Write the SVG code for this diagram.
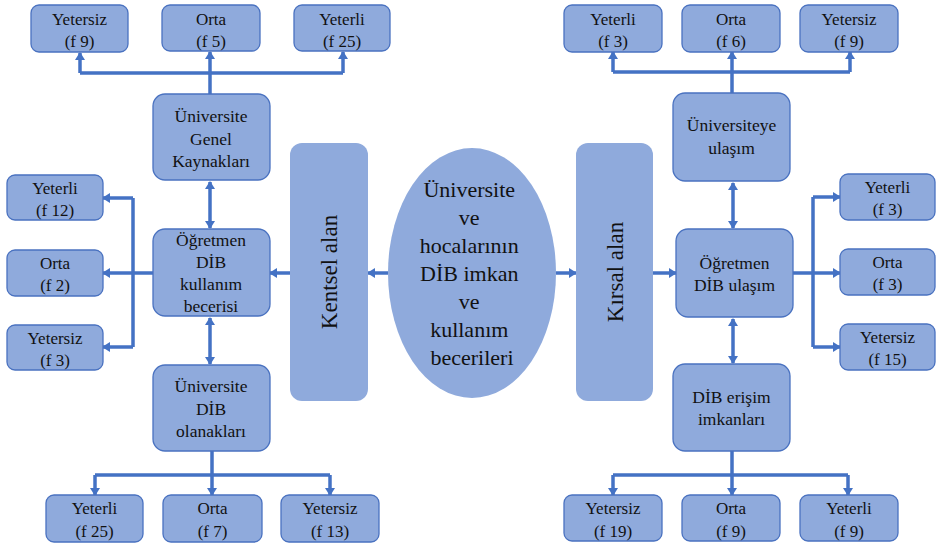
<svg xmlns="http://www.w3.org/2000/svg" width="936" height="545" viewBox="0 0 936 545">
  <style>
    .box { fill: #8FAADC; stroke: #4A72C0; stroke-width: 1.3; }
    .plain { fill: #8FAADC; stroke: none; }
    text { font-family: 'Liberation Serif', 'Times New Roman', 'DejaVu Serif', serif; fill: #111; text-anchor: middle; }
    .s { font-size: 17px; }
    .m { font-size: 17.5px; }
    .c { font-size: 22px; }
    .v { font-size: 23px; dominant-baseline: central; }
    .ln { fill: none; stroke: #4472C4; stroke-width: 3.5; }
    .ar { marker-end: url(#ah); }
    .dbl { marker-start: url(#ah); marker-end: url(#ah); }
  </style>
  <defs>
    <marker id="ah" viewBox="0 0 8 10" refX="7" refY="5" markerWidth="8" markerHeight="10" markerUnits="userSpaceOnUse" orient="auto-start-reverse">
      <path d="M0,0 L8,5 L0,10 z" fill="#4472C4"/>
    </marker>
  </defs>
  <rect width="936" height="545" fill="#ffffff"/>

  <!-- connectors -->
  <g id="connectors">
    <!-- centre to the two areas -->
    <path class="ln ar" d="M388,273 H368"/>
    <path class="ln ar" d="M556,273 H576"/>
    <path class="ln ar" d="M290,273 H270"/>
    <path class="ln ar" d="M653,273 H676"/>

    <!-- left: general resources to levels -->
    <path class="ln" d="M210,94 V73 M80,73 H343"/>
    <path class="ln ar" d="M80,73 V53"/>
    <path class="ln ar" d="M210,73 V52"/>
    <path class="ln ar" d="M343,73 V52"/>

    <!-- left vertical chain -->
    <path class="ln dbl" d="M210,182 V228"/>
    <path class="ln dbl" d="M210,318 V364"/>

    <!-- left: teacher skill to levels -->
    <path class="ln" d="M153,273 H133 M133,198 V347"/>
    <path class="ln ar" d="M133,273 H103"/>
    <path class="ln ar" d="M133,198 H103"/>
    <path class="ln ar" d="M133,347 H103"/>

    <!-- left: university facilities to levels -->
    <path class="ln" d="M212,451 V475 M95,475 H330"/>
    <path class="ln ar" d="M95,475 V495"/>
    <path class="ln ar" d="M212,475 V495"/>
    <path class="ln ar" d="M330,475 V495"/>

    <!-- right: access to university -->
    <path class="ln" d="M732,93 V72 M613,72 H850"/>
    <path class="ln ar" d="M613,72 V52"/>
    <path class="ln ar" d="M732,72 V52"/>
    <path class="ln ar" d="M850,72 V52"/>

    <!-- right vertical chain -->
    <path class="ln dbl" d="M733,183 V228"/>
    <path class="ln dbl" d="M733,319 V363"/>

    <!-- right: teacher access to levels -->
    <path class="ln" d="M793,273 H813 M813,197 V347"/>
    <path class="ln ar" d="M813,273 H840"/>
    <path class="ln ar" d="M813,197 H840"/>
    <path class="ln ar" d="M813,347 H840"/>

    <!-- right: access facilities to levels -->
    <path class="ln" d="M732,451 V475 M613,475 H848"/>
    <path class="ln ar" d="M613,475 V495"/>
    <path class="ln ar" d="M732,475 V495"/>
    <path class="ln ar" d="M848,475 V495"/>
  </g>

  <!-- centre -->
  <g id="center">
    <ellipse class="plain" cx="472" cy="273" rx="84" ry="125"/>
    <text class="c">
      <tspan x="472" y="197">Üniversite</tspan>
      <tspan x="472" y="225">ve</tspan>
      <tspan x="472" y="253">hocalarının</tspan>
      <tspan x="472" y="281">DİB imkan</tspan>
      <tspan x="472" y="309">ve</tspan>
      <tspan x="472" y="337">kullanım</tspan>
      <tspan x="472" y="365">becerileri</tspan>
    </text>
  </g>

  <g id="kentsel">
    <rect class="plain" x="290" y="143" width="78" height="258" rx="12"/>
    <text class="v" transform="translate(329,272) rotate(-90)">Kentsel alan</text>
  </g>

  <g id="kirsal">
    <rect class="plain" x="576" y="143" width="77" height="258" rx="12"/>
    <text class="v" transform="translate(615,272) rotate(-90)">Kırsal alan</text>
  </g>

  <!-- left side -->
  <g id="genel-kaynaklar">
    <rect class="box" x="153" y="94" width="117" height="86" rx="12"/>
    <text class="m"><tspan x="211" y="122">Üniversite</tspan><tspan x="211" y="145">Genel</tspan><tspan x="211" y="167">Kaynakları</tspan></text>
  </g>
  <g id="gk-yetersiz">
    <rect class="box" x="31" y="5" width="97" height="47" rx="8"/>
    <text class="s"><tspan x="79.5" y="25">Yetersiz</tspan><tspan x="79.5" y="47">(f 9)</tspan></text>
  </g>
  <g id="gk-orta">
    <rect class="box" x="162" y="5" width="98" height="46" rx="8"/>
    <text class="s"><tspan x="211" y="25">Orta</tspan><tspan x="211" y="47">(f 5)</tspan></text>
  </g>
  <g id="gk-yeterli">
    <rect class="box" x="294" y="5" width="96" height="46" rx="8"/>
    <text class="s"><tspan x="342" y="25">Yeterli</tspan><tspan x="342" y="47">(f 25)</tspan></text>
  </g>

  <g id="ogretmen-kullanim">
    <rect class="box" x="153" y="229" width="117" height="87" rx="12"/>
    <text class="m"><tspan x="211" y="246">Öğretmen</tspan><tspan x="211" y="268">DİB</tspan><tspan x="211" y="290">kullanım</tspan><tspan x="211" y="312">becerisi</tspan></text>
  </g>
  <g id="ok-yeterli">
    <rect class="box" x="7" y="175" width="96" height="45" rx="8"/>
    <text class="s"><tspan x="55" y="194">Yeterli</tspan><tspan x="55" y="216">(f 12)</tspan></text>
  </g>
  <g id="ok-orta">
    <rect class="box" x="7" y="250" width="96" height="46" rx="8"/>
    <text class="s"><tspan x="55" y="269">Orta</tspan><tspan x="55" y="291">(f 2)</tspan></text>
  </g>
  <g id="ok-yetersiz">
    <rect class="box" x="7" y="325" width="96" height="45" rx="8"/>
    <text class="s"><tspan x="55" y="344">Yetersiz</tspan><tspan x="55" y="366">(f 3)</tspan></text>
  </g>

  <g id="dib-olanaklari">
    <rect class="box" x="153" y="365" width="117" height="86" rx="12"/>
    <text class="m"><tspan x="211" y="392">Üniversite</tspan><tspan x="211" y="415">DİB</tspan><tspan x="211" y="437">olanakları</tspan></text>
  </g>
  <g id="do-yeterli">
    <rect class="box" x="46" y="495" width="97" height="47" rx="8"/>
    <text class="s"><tspan x="94.5" y="514">Yeterli</tspan><tspan x="94.5" y="537">(f 25)</tspan></text>
  </g>
  <g id="do-orta">
    <rect class="box" x="163" y="495" width="99" height="47" rx="8"/>
    <text class="s"><tspan x="212.5" y="514">Orta</tspan><tspan x="212.5" y="537">(f 7)</tspan></text>
  </g>
  <g id="do-yetersiz">
    <rect class="box" x="281" y="495" width="98" height="47" rx="8"/>
    <text class="s"><tspan x="330" y="514">Yetersiz</tspan><tspan x="330" y="537">(f 13)</tspan></text>
  </g>

  <!-- right side -->
  <g id="universiteye-ulasim">
    <rect class="box" x="673" y="93" width="117" height="88" rx="12"/>
    <text class="m"><tspan x="731.5" y="131">Üniversiteye</tspan><tspan x="731.5" y="154">ulaşım</tspan></text>
  </g>
  <g id="uu-yeterli">
    <rect class="box" x="564" y="5" width="98" height="47" rx="8"/>
    <text class="s"><tspan x="613" y="25">Yeterli</tspan><tspan x="613" y="47">(f 3)</tspan></text>
  </g>
  <g id="uu-orta">
    <rect class="box" x="682" y="5" width="98" height="47" rx="8"/>
    <text class="s"><tspan x="731" y="25">Orta</tspan><tspan x="731" y="47">(f 6)</tspan></text>
  </g>
  <g id="uu-yetersiz">
    <rect class="box" x="800" y="5" width="98" height="47" rx="8"/>
    <text class="s"><tspan x="849" y="25">Yetersiz</tspan><tspan x="849" y="47">(f 9)</tspan></text>
  </g>

  <g id="ogretmen-ulasim">
    <rect class="box" x="676" y="229" width="117" height="88" rx="12"/>
    <text class="m"><tspan x="734.5" y="269">Öğretmen</tspan><tspan x="734.5" y="291">DİB ulaşım</tspan></text>
  </g>
  <g id="ou-yeterli">
    <rect class="box" x="840" y="174" width="95" height="46" rx="8"/>
    <text class="s"><tspan x="887.5" y="193">Yeterli</tspan><tspan x="887.5" y="215">(f 3)</tspan></text>
  </g>
  <g id="ou-orta">
    <rect class="box" x="840" y="249" width="95" height="46" rx="8"/>
    <text class="s"><tspan x="887.5" y="268">Orta</tspan><tspan x="887.5" y="290">(f 3)</tspan></text>
  </g>
  <g id="ou-yetersiz">
    <rect class="box" x="840" y="324" width="95" height="46" rx="8"/>
    <text class="s"><tspan x="887.5" y="343">Yetersiz</tspan><tspan x="887.5" y="365">(f 15)</tspan></text>
  </g>

  <g id="dib-erisim">
    <rect class="box" x="673" y="364" width="117" height="87" rx="12"/>
    <text class="m"><tspan x="731.5" y="403">DİB erişim</tspan><tspan x="731.5" y="425">imkanları</tspan></text>
  </g>
  <g id="de-yetersiz">
    <rect class="box" x="564" y="495" width="98" height="46" rx="8"/>
    <text class="s"><tspan x="613" y="514">Yetersiz</tspan><tspan x="613" y="537">(f 19)</tspan></text>
  </g>
  <g id="de-orta">
    <rect class="box" x="682" y="495" width="98" height="46" rx="8"/>
    <text class="s"><tspan x="731" y="514">Orta</tspan><tspan x="731" y="537">(f 9)</tspan></text>
  </g>
  <g id="de-yeterli">
    <rect class="box" x="800" y="495" width="98" height="46" rx="8"/>
    <text class="s"><tspan x="849" y="514">Yeterli</tspan><tspan x="849" y="537">(f 9)</tspan></text>
  </g>
</svg>
